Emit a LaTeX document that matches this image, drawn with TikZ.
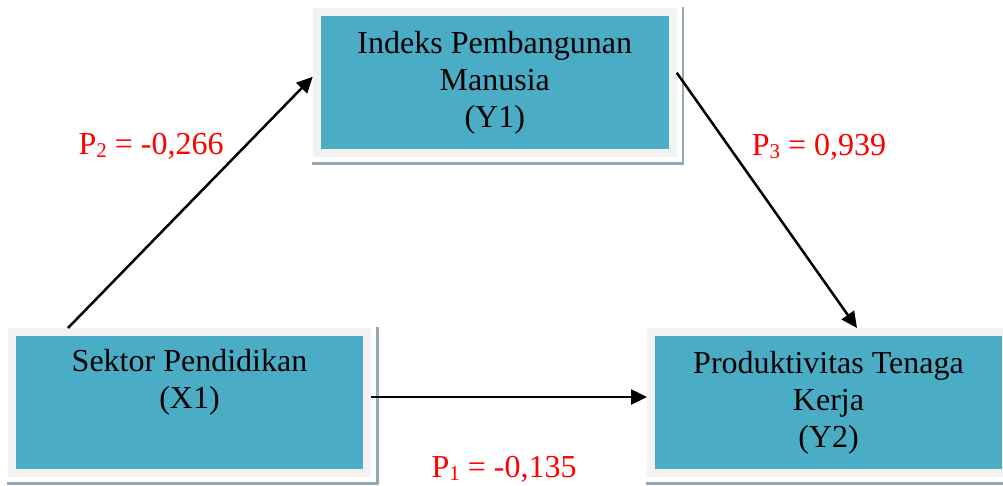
\documentclass[tikz,border=0pt]{standalone}
\usepackage{fontspec}
\setmainfont{Liberation Serif}
\usetikzlibrary{arrows.meta,backgrounds,calc}
\definecolor{boxteal}{HTML}{4BACC6}
\definecolor{framegray}{HTML}{F2F2F2}
\definecolor{shadowcol}{HTML}{93AAB4}
\newcommand{\mysub}[1]{\raisebox{-3pt}{\fontsize{21}{21}\selectfont #1}}
\begin{document}
\begin{tikzpicture}[x=1pt,y=-1pt,
  varbox/.style={rectangle, fill=boxteal, draw=framegray, line width=8pt,
    minimum width=356pt, minimum height=141pt, align=center, inner sep=0pt,
    font=\fontsize{32}{37}\selectfont},
  coef/.style={text=red, font=\fontsize{32}{37}\selectfont, inner sep=0pt},
  path/.style={line width=2.5pt, -{Triangle[length=16pt,width=15pt]}}]
\useasboundingbox (0,0) rectangle (1003,486);
\node[varbox] (y1) at (494.75,82.75) {Indeks Pembangunan\\Manusia\\(Y1)};
\node[varbox, minimum width=355pt] (x1) at (189.5,402.5) {Sektor Pendidikan\\(X1)\\\strut};
\node[varbox, minimum width=355pt] (y2) at (828.5,402.5) {Produktivitas Tenaga\\Kerja\\(Y2)};
\begin{scope}[on background layer]
  \foreach \n in {y1,x1,y2}{
    \fill[shadowcol] ($(\n.south west)+(-1,8)$) rectangle ($(\n.north east)+(7.5,-1)$);
    \fill[white] ($(\n.south west)+(-1,5)$) rectangle ($(\n.north east)+(5,-1)$);
  }
\end{scope}
\node[coef] (p2) at (151,146) {P\mysub{2} = -0,266};
\node[coef] (p3) at (819,147) {P\mysub{3} = 0,939};
\node[coef] (p1) at (504,469) {P\mysub{1} = -0,135};
\draw[path] ([xshift=60pt]x1.north west) -- ([yshift=6pt]y1.west);
\draw[path] ([yshift=10pt]y1.east) -- ([xshift=28.5pt]y2.north);
\draw[path] ([yshift=5.5pt]x1.east) -- ([yshift=5.5pt]y2.west);
\end{tikzpicture}
\end{document}
